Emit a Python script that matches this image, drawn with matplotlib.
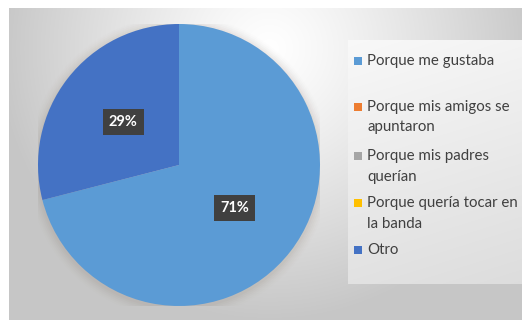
import numpy as np
import matplotlib
matplotlib.use("Agg")
import matplotlib.pyplot as plt
from matplotlib.patches import Rectangle

# Data
categories = [
    "Porque me gustaba",
    "Porque mis amigos se\napuntaron",
    "Porque mis padres\nquerían",
    "Porque quería tocar en\nla banda",
    "Otro",
]
values = [71, 0, 0, 0, 29]
colors = ["#5B9BD5", "#ED7D31", "#A5A5A5", "#FFC000", "#4472C4"]

W, H = 522, 320
fig = plt.figure(figsize=(W / 100, H / 100), dpi=100)
fig.patch.set_facecolor("white")

# Chart-area background: soft radial grey gradient
bg = fig.add_axes([9 / W, 0, (W - 9) / W, (H - 8) / H])
bg.set_axis_off()
yy, xx = np.mgrid[0:312, 0:513]
cx, cy = 260, 40
d = np.sqrt(((xx - cx) / 300.0) ** 2 + ((yy - cy) / 300.0) ** 2)
shade = np.clip(1.0 - 0.25 * d ** 1.2, 0.78, 1.0)
img = np.dstack([shade, shade, shade])
bg.imshow(img, extent=[0, 513, 312, 0], aspect="auto", interpolation="bilinear")

# Legend panel
lg_x0, lg_y0, lg_x1, lg_y1 = 348 - 9, 40 - 8, 513, 284 - 8
ly, lx = np.mgrid[0:lg_y1 - lg_y0, 0:lg_x1 - lg_x0]
lshade = 0.975 - 0.09 * (ly / (lg_y1 - lg_y0)) - 0.02 * (lx / (lg_x1 - lg_x0))
bg.imshow(np.dstack([lshade] * 3), extent=[lg_x0, lg_x1, lg_y1, lg_y0],
          aspect="auto", interpolation="bilinear")
bg.set_xlim(0, 513)
bg.set_ylim(312, 0)

# Pie
R = 141
pcx, pcy = 179, 165
ax = fig.add_axes([(pcx - R) / W, (H - pcy - R) / H, 2 * R / W, 2 * R / H])
ax.set_axis_off()

# soft shadow under the pie
for i, a in enumerate(np.linspace(0.05, 0.01, 6)):
    circ = plt.Circle((0.0, -0.012), 1.0 + 0.012 * (i + 1), color="#8a7a6a",
                      alpha=a, lw=0, zorder=0)
    ax.add_patch(circ)

wedges, _, autotexts = ax.pie(
    values,
    colors=colors,
    startangle=90,
    counterclock=False,
    radius=1.0,
    autopct=lambda p: f"{p:.0f}%" if p > 0.5 else "",
    pctdistance=0.5,
    wedgeprops=dict(linewidth=0),
    textprops=dict(color="white", fontsize=10.5, fontweight="bold",
                   family="Lato"),
)
for t in autotexts:
    if t.get_text():
        t.set_bbox(dict(boxstyle="square,pad=0.4", fc="#404040", ec="none"))
ax.set_xlim(-1, 1)
ax.set_ylim(-1, 1)
ax.set_aspect("auto")

# Legend entries
text_x = 367
marker_x = 354
rows = [61, 107, 156, 203, 250]
line_gap = 20.5
for cat, col, y in zip(categories, colors, rows):
    fig.patches.append(Rectangle((marker_x / W, 1 - (y + 4) / H), 8 / W, 8 / H,
                                 transform=fig.transFigure, fc=col, ec="none"))
    for k, line in enumerate(cat.split("\n")):
        fig.text(text_x / W, 1 - (y + k * line_gap) / H, line,
                 fontsize=10.8, color="#404040", family="Lato",
                 va="center", ha="left")

fig.savefig("out.png", dpi=100)
